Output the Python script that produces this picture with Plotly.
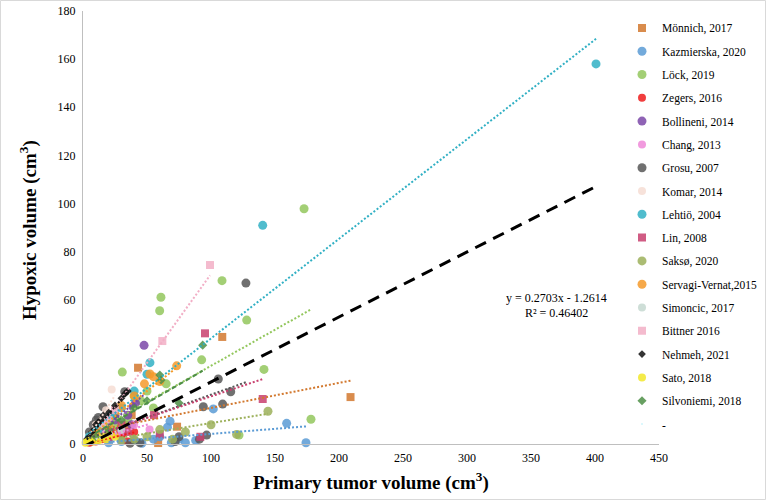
import plotly.graph_objects as go

# ---------------- data ----------------
names = ["Mönnich, 2017", "Kazmierska, 2020", "Löck, 2019", "Zegers, 2016",
         "Bollineni, 2014", "Chang, 2013", "Grosu, 2007", "Komar, 2014",
         "Lehtiö, 2004", "Lin, 2008", "Saksø, 2020", "Servagi-Vernat,2015",
         "Simoncic, 2017", "Bittner 2016", "Nehmeh, 2021", "Sato, 2018",
         "Silvoniemi, 2018"]

monnich_x = [209, 108.8, 43, 73.5, 58.7, 5, 10, 15, 20, 25, 30, 35, 38]
monnich_y = [19.5, 44.5, 31.7, 7.2, 0.4, 1, 2, 3, 2, 5, 4, 8, 12]

kazmierska_x = [174.2, 159.1, 101.8, 68, 66, 69, 46, 80, 88, 55, 30, 20, 40, 60, 75]
kazmierska_y = [0.5, 8.6, 14.6, 9.5, 7, 0.5, 0.3, 0.5, 1.5, 2, 1, 0.5, 1.5, 3, 2]

lock_x = [172.7, 108.6, 60.9, 59.9, 127.9, 92.7, 141.4, 30.7, 178.1, 121.9,
          40, 45, 50, 20, 25, 35, 15, 10, 55, 65]
lock_y = [97.8, 67.9, 61, 55.4, 51.5, 35, 31, 29.9, 10.3, 3.7,
          20, 18, 22, 5, 8, 10, 3, 2, 15, 25]

zegers_x = [5, 10, 15, 20, 25, 31, 35, 40]
zegers_y = [0.5, 1, 2, 3, 4, 4.4, 1, 5]

bollineni_x = [47.7, 39, 41, 38, 30, 20, 25, 15, 35]
bollineni_y = [41, 15.5, 17, 8, 6, 4, 10, 3, 12]

chang_x = [52, 30, 20, 15, 10, 40]
chang_y = [6, 5, 3, 4, 2, 8]

grosu_x = [127.3, 105.7, 115.4, 109.1, 96.6, 91, 75, 72, 10.4, 15.6, 32.6,
           5, 8, 25, 12, 94, 36.7, 44.5]
grosu_y = [66.9, 27, 21.7, 16.6, 3.7, 2, 3, 1, 10, 15.5, 21.7,
           5, 8, 12, 11, 15.5, 0.3, 0.5]

komar_x = [22.4, 18, 10, 15, 25, 5]
komar_y = [22.7, 14, 8, 10, 15, 3]

lehtio_x = [400.8, 140.4, 52.3, 50, 40, 30, 22, 12, 5]
lehtio_y = [158, 90.9, 33.8, 29, 22, 15, 12, 6, 3]

lin_x = [95.3, 140.4, 91.7, 55.5, 35, 20, 30, 60]
lin_y = [46, 18.7, 3, 12, 5, 3, 8, 4]

sakso_x = [144.5, 120, 100, 80, 60, 50, 40, 30, 70]
sakso_y = [13.6, 4, 8, 5, 6, 3, 2, 1.5, 2]

servagi_x = [52.3, 73.2, 48, 40, 30, 60, 20, 10, 55]
servagi_y = [29.1, 32.5, 25, 20, 16, 26, 8, 4, 28]

simoncic_x = [10, 20, 30]
simoncic_y = [2, 4, 6]

bittner_x = [99.2, 62, 20, 15, 25]
bittner_y = [74.4, 42.8, 10, 8, 14]

nehmeh_x = [3, 5, 7, 9, 10, 12, 14, 16, 20, 25, 30, 33, 35]
nehmeh_y = [2, 3, 5, 6, 8, 9, 10, 12, 13, 16, 19, 21, 22]

sato_x = [2, 4, 6, 8, 10, 12, 15, 18, 20, 25]
sato_y = [0.5, 1, 1.5, 1, 2, 1.5, 3, 2, 4, 3]

silvoniemi_x = [93.5, 75, 61, 60, 50, 40, 30, 20, 10]
silvoniemi_y = [41.1, 17, 26.6, 28.7, 18, 15, 10, 6, 3]

# per-study linear trendline coefficients (slope, intercept)
trend_slope = [0.104, 0.042, 0.30, 0.12, 0.45, 0.15, 0.19, 0.85, 0.414, 0.178,
               0.087, 0.42, 0.20, 0.74, 0.62, 0.15, 0.31]
trend_intercept = [4.6, 0.0, 2.5, 0.0, -1.0, 0.5, 1.5, -1.0, 2.5, 2.0,
                   0.0, 1.0, 0.0, -3.3, 0.0, 0.0, 1.5]

# overall regression shown on the chart
overall_slope = 0.2703
overall_intercept = -1.2614
r_squared = 0.46402

x_ticks = [0, 50, 100, 150, 200, 250, 300, 350, 400, 450]
y_ticks = [0, 20, 40, 60, 80, 100, 120, 140, 160, 180]

# ---------------- styles ----------------
xs = [monnich_x, kazmierska_x, lock_x, zegers_x, bollineni_x, chang_x, grosu_x,
      komar_x, lehtio_x, lin_x, sakso_x, servagi_x, simoncic_x, bittner_x,
      nehmeh_x, sato_x, silvoniemi_x]
ys = [monnich_y, kazmierska_y, lock_y, zegers_y, bollineni_y, chang_y, grosu_y,
      komar_y, lehtio_y, lin_y, sakso_y, servagi_y, simoncic_y, bittner_y,
      nehmeh_y, sato_y, silvoniemi_y]
colors = ["#D2782E", "#5B9BD5", "#93C75D", "#EE1C1C", "#7B48A8", "#EE88D8",
          "#575757", "#F6DDD4", "#31B0C4", "#C8406E", "#9CB05A", "#F59A2A",
          "#C5D8D0", "#F2AFC6", "#111111", "#F2E82A", "#4E8F46"]
symbols = ["square", "circle", "circle", "circle", "circle", "circle", "circle",
           "circle", "circle", "square", "circle", "circle", "circle", "square",
           "diamond", "circle", "diamond"]
sizes = [8, 9, 9, 8, 9, 8, 9, 8, 9, 8, 9, 9, 8, 8, 6, 8, 7]
dashes = ["2px,2px"] * 17
dashes[16] = "5px,3px"

SERIF = "Liberation Serif, Times New Roman, serif"
L, R, T, B = 83, 107, 11, 56
PW, PH = 766 - L - R, 500 - T - B

fig = go.Figure()

for i, nm in enumerate(names):
    fig.add_trace(go.Scatter(
        x=xs[i], y=ys[i], mode="markers", name=nm, legendgroup=nm,
        marker=dict(color=colors[i], symbol=symbols[i], size=sizes[i],
                    opacity=0.85, line=dict(width=0)),
        cliponaxis=False))

for i, nm in enumerate(names):
    x0, x1 = min(xs[i]), max(xs[i])
    fig.add_trace(go.Scatter(
        x=[x0, x1],
        y=[trend_slope[i] * x0 + trend_intercept[i], trend_slope[i] * x1 + trend_intercept[i]],
        mode="lines", showlegend=False, hoverinfo="skip",
        line=dict(color=colors[i], width=2, dash=dashes[i])))

all_x = [v for arr in xs for v in arr]
ox0, ox1 = 0, max(all_x)
fig.add_trace(go.Scatter(
    x=[ox0, ox1],
    y=[overall_slope * ox0 + overall_intercept, overall_slope * ox1 + overall_intercept],
    mode="lines", showlegend=False, hoverinfo="skip",
    line=dict(color="black", width=3, dash="12px,8px")))

# empty legend entry "-"
fig.add_trace(go.Scatter(x=[None], y=[None], mode="markers", name="-", legendgroup="-",
                         marker=dict(opacity=0, size=1)))

fig.add_annotation(x=370, y=60.7, xref="x", yref="y", showarrow=False,
                   text=f"y = {overall_slope}x - {abs(overall_intercept)}",
                   font=dict(family=SERIF, size=12, color="black"))
fig.add_annotation(x=370, y=54.4, xref="x", yref="y", showarrow=False,
                   text=f"R² = {r_squared}",
                   font=dict(family=SERIF, size=12, color="black"))

# axis titles as annotations (fixed positions)
fig.add_annotation(x=(371 - L) / PW, y=(T + PH - 481) / PH, xref="paper", yref="paper",
                   showarrow=False, xanchor="center", yanchor="middle",
                   text="<b>Primary tumor volume (cm<sup>3</sup>)</b>",
                   font=dict(family=SERIF, size=19, color="black"))
fig.add_annotation(x=(28 - L) / PW, y=(T + PH - 230) / PH, xref="paper", yref="paper",
                   showarrow=False, xanchor="center", yanchor="middle", textangle=-90,
                   text="<b>Hypoxic volume (cm<sup>3</sup>)</b>",
                   font=dict(family=SERIF, size=19, color="black"))

# light outer border like the original chart frame
fig.add_shape(type="rect", xref="paper", yref="paper",
              x0=(0.5 - L) / PW, x1=(765.5 - L) / PW,
              y0=(T + PH - 499.5) / PH, y1=(T + PH - 0.5) / PH,
              line=dict(color="#D9D9D9", width=1), fillcolor="rgba(0,0,0,0)", layer="below")

fig.update_layout(
    width=766, height=500,
    margin=dict(l=L, r=R, t=T, b=B, autoexpand=False),
    paper_bgcolor="white", plot_bgcolor="white",
    font=dict(family=SERIF, size=12, color="black"),
    showlegend=True,
    legend=dict(x=(622 - L) / PW, xanchor="left", y=(T + PH - 13.4) / PH, yanchor="top",
                font=dict(family=SERIF, size=11.5, color="black"),
                bgcolor="rgba(0,0,0,0)", tracegroupgap=4.3,
                traceorder="grouped", itemwidth=30),
    xaxis=dict(range=[0, 450], tickvals=x_ticks, showgrid=False, zeroline=False,
               showline=True, linecolor="#BFBFBF", linewidth=1, ticks="",
               automargin=False, ticklabelstandoff=3,
               tickfont=dict(family=SERIF, size=12, color="black")),
    yaxis=dict(range=[0, 180], tickvals=y_ticks, showgrid=False, zeroline=False,
               showline=True, linecolor="#BFBFBF", linewidth=1, ticks="",
               automargin=False, ticklabelstandoff=4,
               tickfont=dict(family=SERIF, size=12, color="black")),
)

# remove the browser's default 8px page margin so the figure fills the window
fig.write_html("out.html", config={"displayModeBar": False},
               post_script="document.body.style.margin='0';document.body.style.padding='0';")
